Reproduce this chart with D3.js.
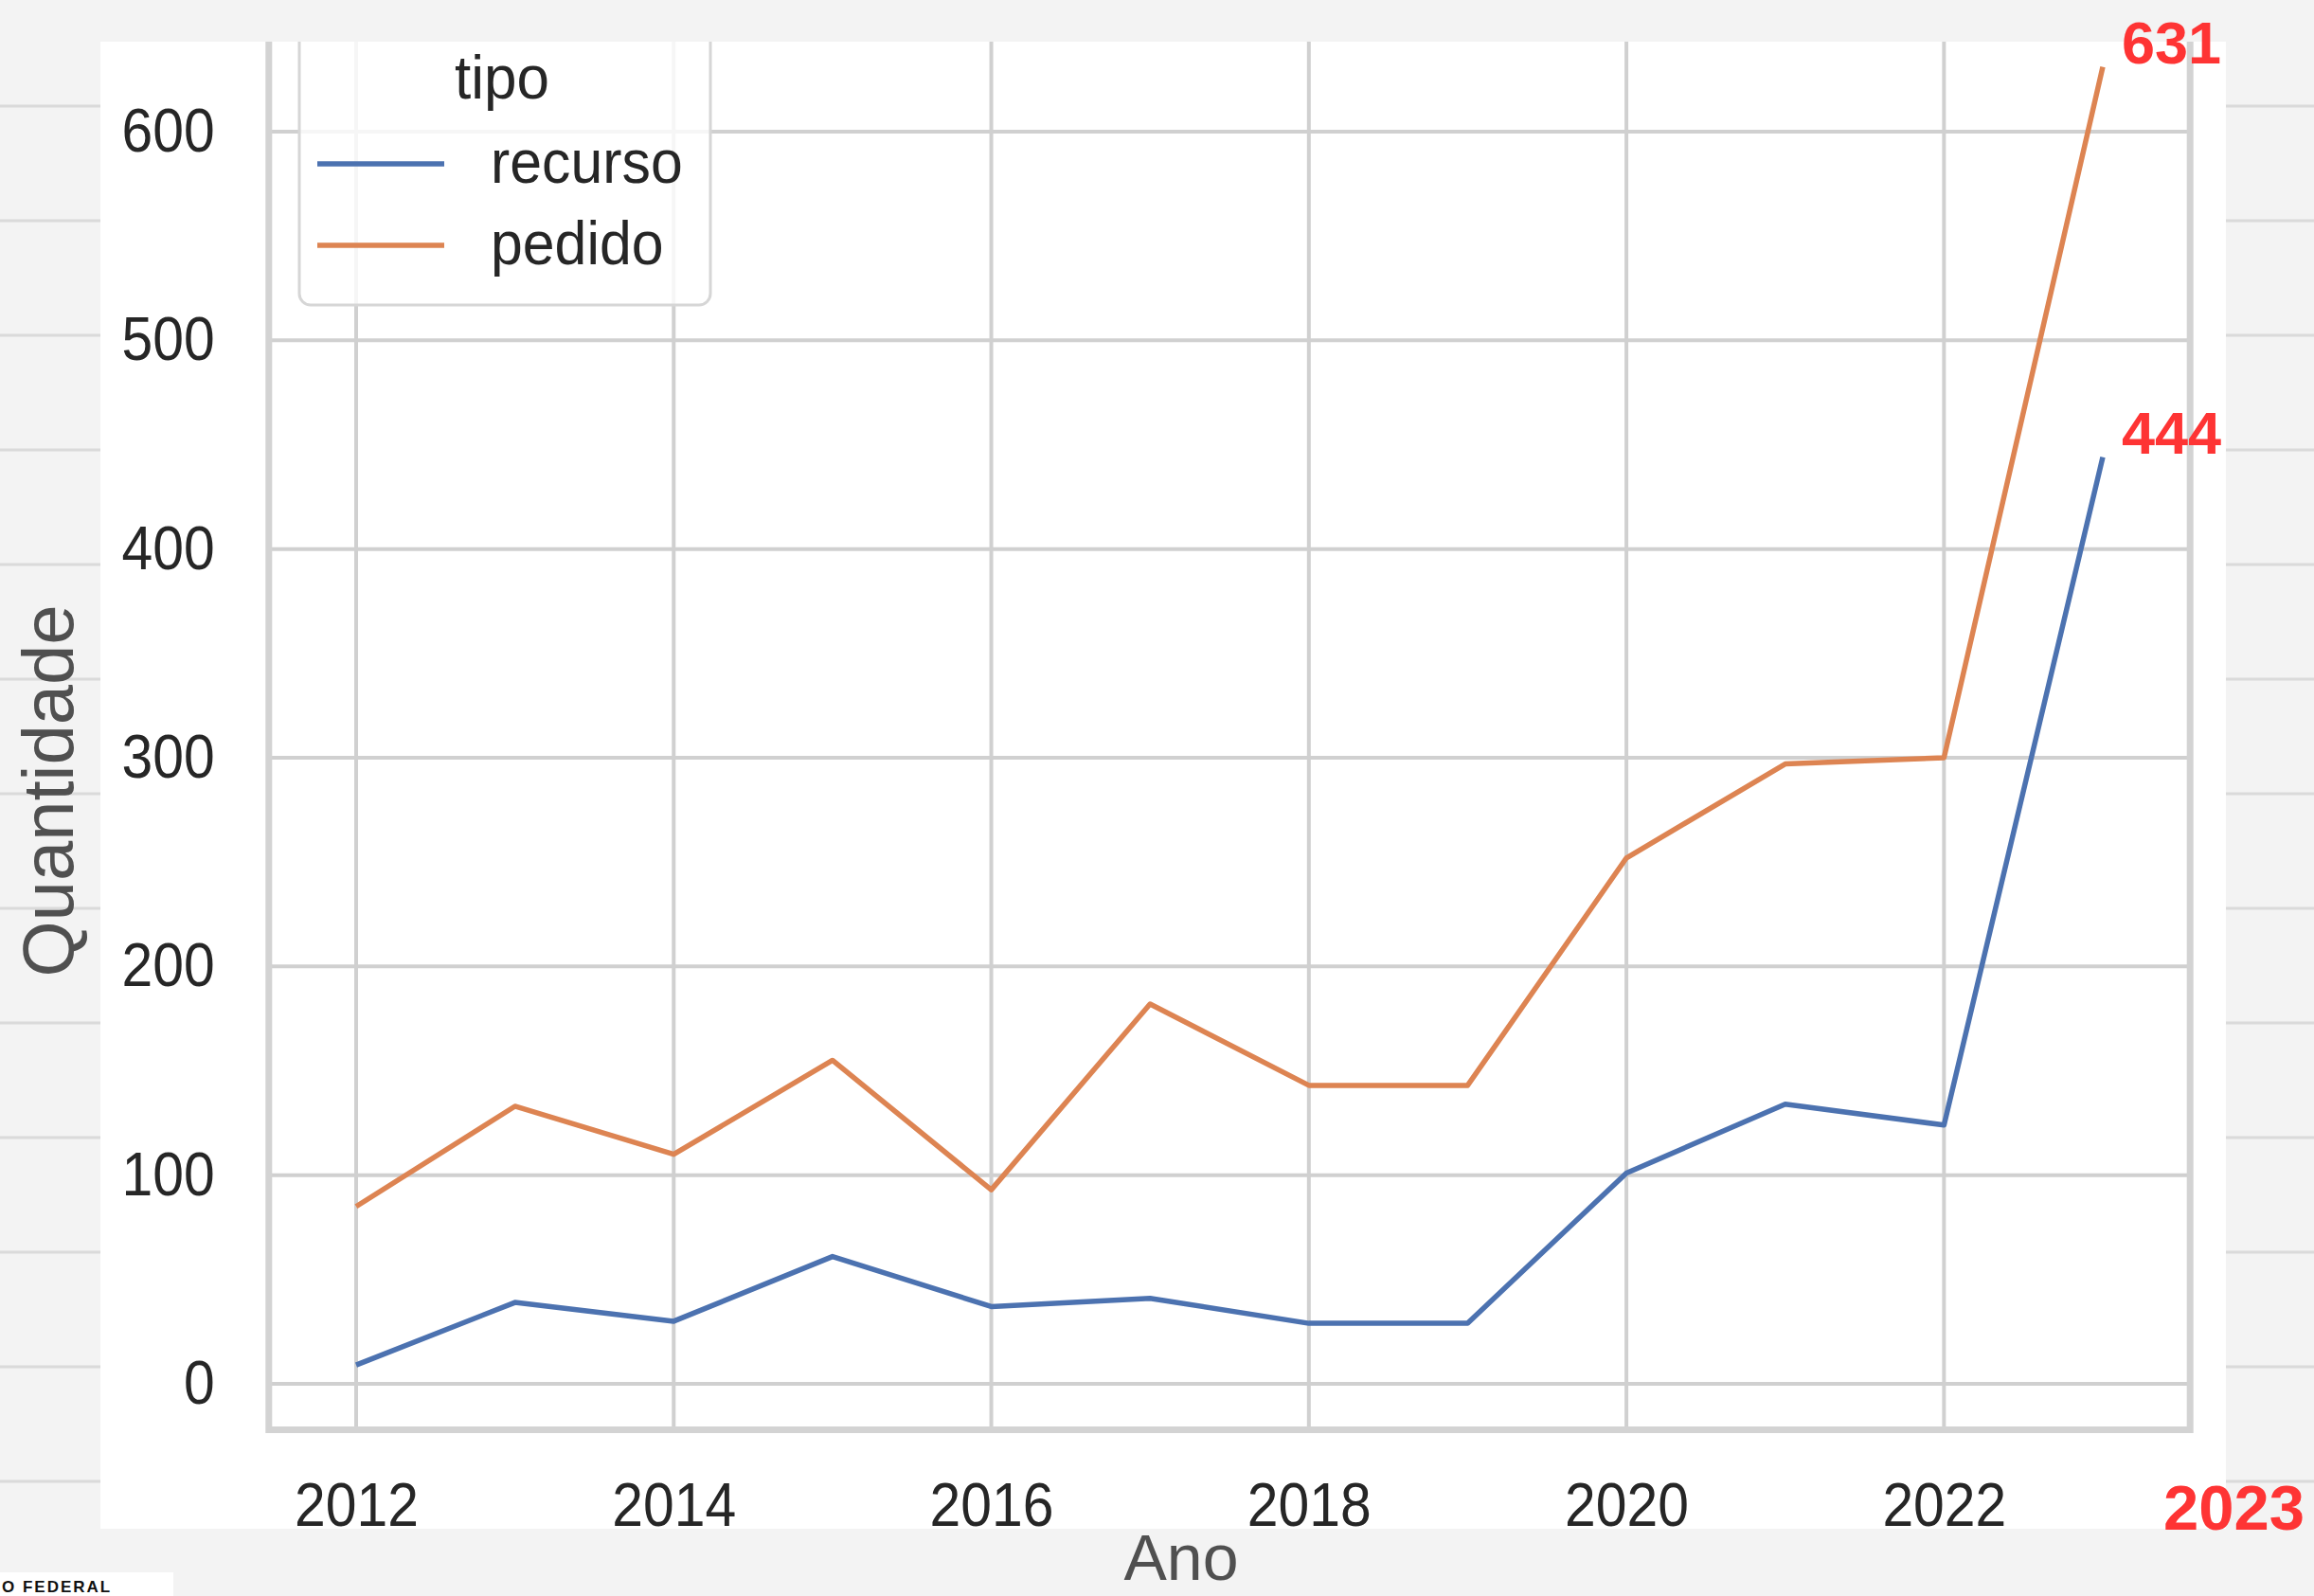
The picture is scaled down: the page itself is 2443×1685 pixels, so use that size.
<!DOCTYPE html>
<html lang="pt">
<head>
<meta charset="utf-8">
<title>recurso x pedido</title>
<script src="https://cdn.jsdelivr.net/npm/d3@7/dist/d3.min.js"></script>
<style>
  body { margin: 0; background: #f3f3f3; }
  svg { display: block; font-family: "Liberation Sans", Arial, sans-serif; }
</style>
</head>
<body>
<script>
// dados
var anos = [2012, 2013, 2014, 2015, 2016, 2017, 2018, 2019, 2020, 2021, 2022, 2023];
var recurso = [9, 39, 30, 61, 37, 41, 29, 29, 101, 134, 124, 444];
var pedido = [85, 133, 110, 155, 93, 182, 143, 143, 252, 297, 300, 631];
var series = [
  { tipo: 'recurso', valores: recurso, cor: '#4c72b0' },
  { tipo: 'pedido', valores: pedido, cor: '#dd8452' }
];
var xTicks = [2012, 2014, 2016, 2018, 2020, 2022];
var yTicks = [0, 100, 200, 300, 400, 500, 600];

var W = 2443, H = 1685;
var svg = d3.select('body').append('svg')
  .attr('width', W).attr('height', H);

// fundo de caderno
svg.append('rect').attr('width', W).attr('height', H).attr('fill', '#f3f3f3');
svg.append('g').selectAll('line')
  .data(d3.range(112, H, 121))
  .enter().append('line')
  .attr('x1', 0).attr('x2', W)
  .attr('y1', d => d).attr('y2', d => d)
  .attr('stroke', '#dadada').attr('stroke-width', 3);

// painel branco (imagem do grafico)
var panel = { x: 106, y: 44, w: 2244, h: 1570 };
svg.append('rect')
  .attr('x', panel.x).attr('y', panel.y)
  .attr('width', panel.w).attr('height', panel.h)
  .attr('fill', '#fff');

svg.append('clipPath').attr('id', 'clip')
  .append('rect')
  .attr('x', panel.x).attr('y', panel.y)
  .attr('width', panel.w).attr('height', panel.h);

var g = svg.append('g').attr('clip-path', 'url(#clip)');

var x = d3.scaleLinear().domain([2012, 2023]).range([376, 2220]);
var y = d3.scaleLinear().domain([0, 600]).range([1461, 139]);
var xlim = [2011.45, 2023.55], ylim = [-22, 662];
var xEsq = x(xlim[0]), xDir = x(xlim[1]), yTopo = y(ylim[1]), yBase = y(ylim[0]);

// grades
g.append('g').selectAll('line')
  .data(xTicks)
  .enter().append('line')
  .attr('x1', d => x(d)).attr('x2', d => x(d))
  .attr('y1', yTopo).attr('y2', yBase)
  .attr('stroke', '#d0d0d0').attr('stroke-width', 4);
g.append('g').selectAll('line')
  .data(yTicks)
  .enter().append('line')
  .attr('x1', xEsq).attr('x2', xDir)
  .attr('y1', d => y(d)).attr('y2', d => y(d))
  .attr('stroke', '#d0d0d0').attr('stroke-width', 4);

// bordas
g.append('path')
  .attr('d', 'M' + xEsq + ',' + yTopo + 'V' + yBase + 'H' + xDir + 'V' + yTopo)
  .attr('fill', 'none').attr('stroke', '#d3d3d3').attr('stroke-width', 7);

// linhas
var line = d3.line()
  .x((d, i) => x(anos[i]))
  .y(d => y(d));
g.append('g').selectAll('path')
  .data(series)
  .enter().append('path')
  .attr('d', d => line(d.valores))
  .attr('fill', 'none')
  .attr('stroke', d => d.cor)
  .attr('stroke-width', 5.5)
  .attr('stroke-linejoin', 'round');

// eixos
var sx = 0.92;
var pad = 57;
var ay = svg.append('g')
  .attr('transform', 'translate(' + xEsq + ',0)')
  .call(d3.axisLeft(y).tickValues(yTicks).tickSize(0).tickPadding(pad));
ay.select('.domain').remove();
ay.selectAll('text')
  .attr('x', -pad / sx)
  .attr('transform', 'scale(' + sx + ',1)')
  .attr('font-size', 64).attr('fill', '#262626')
  .attr('font-family', '"Liberation Sans", Arial, sans-serif');

var ax = svg.append('g')
  .attr('transform', 'translate(0,' + yBase + ')')
  .call(d3.axisBottom(x).tickValues(xTicks).tickFormat(d3.format('d')).tickSize(0).tickPadding(56));
ax.select('.domain').remove();
ax.selectAll('text')
  .attr('transform', 'scale(' + sx + ',1)')
  .attr('font-size', 64).attr('fill', '#262626')
  .attr('font-family', '"Liberation Sans", Arial, sans-serif');

// titulos dos eixos
svg.append('text')
  .attr('transform', 'translate(77,835) rotate(-90)')
  .attr('text-anchor', 'middle')
  .attr('font-size', 76).attr('fill', '#505050')
  .text('Quantidade');
svg.append('text')
  .attr('x', 1247).attr('y', 1668)
  .attr('text-anchor', 'middle')
  .attr('font-size', 68).attr('fill', '#505050')
  .text('Ano');

// legenda
var leg = g.append('g');
leg.append('rect')
  .attr('x', 316).attr('y', -20).attr('width', 434).attr('height', 342)
  .attr('rx', 12)
  .attr('fill', '#fff').attr('fill-opacity', 0.8)
  .attr('stroke', '#d6d6d6').attr('stroke-width', 3);
leg.append('text')
  .attr('transform', 'translate(530,104) scale(0.97,1)')
  .attr('text-anchor', 'middle')
  .attr('font-size', 64).attr('fill', '#262626')
  .text('tipo');
var item = leg.selectAll('.item')
  .data(series)
  .enter().append('g')
  .attr('class', 'item')
  .attr('transform', (d, i) => 'translate(0,' + (173 + i * 86) + ')');
item.append('line')
  .attr('x1', 335).attr('x2', 469)
  .attr('stroke', d => d.cor).attr('stroke-width', 5.5);
item.append('text')
  .attr('transform', 'translate(518,20) scale(0.95,1)')
  .attr('font-size', 64).attr('fill', '#262626')
  .text(d => d.tipo);

// anotacoes em vermelho
var ult = anos.length - 1;
svg.append('g').selectAll('text')
  .data(series)
  .enter().append('text')
  .attr('x', x(anos[ult]) + 20)
  .attr('y', d => y(d.valores[ult]) - 4)
  .attr('font-size', 63).attr('font-weight', 'bold')
  .attr('fill', '#fe3434')
  .text(d => d.valores[ult]);
svg.append('text')
  .attr('x', x(anos[ult]) + 64).attr('y', 1615)
  .attr('font-size', 67).attr('font-weight', 'bold')
  .attr('fill', '#fe3434')
  .text(anos[ult]);

// pedaco de logotipo no canto
svg.append('rect')
  .attr('x', 0).attr('y', 1660).attr('width', 183).attr('height', 30)
  .attr('fill', '#fff');
svg.append('text')
  .attr('x', 2).attr('y', 1681)
  .attr('font-size', 17).attr('font-weight', 'bold')
  .attr('letter-spacing', 2).attr('fill', '#111')
  .text('O FEDERAL');
</script>
</body>
</html>
